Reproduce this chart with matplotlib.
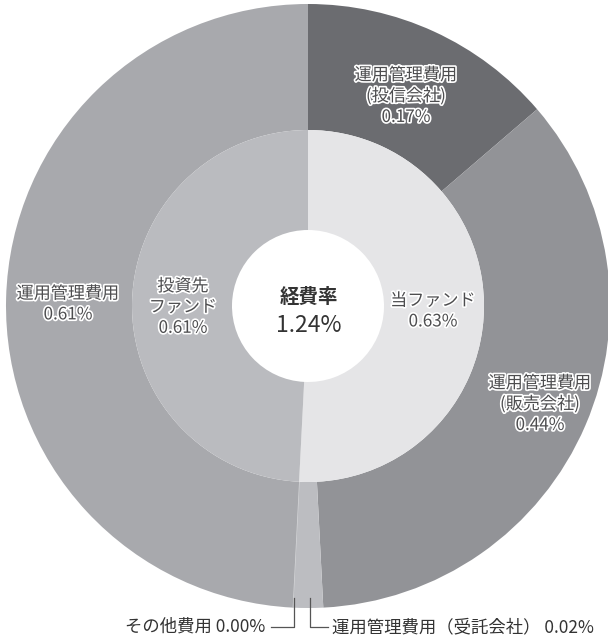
import matplotlib
matplotlib.use("Agg")
import matplotlib.pyplot as plt
import matplotlib.patheffects as pe
import numpy as np

plt.rcParams['font.family'] = ['Noto Sans CJK JP', 'DejaVu Sans']

# ---- data ----
outer_labels = ["運用管理費用\n(投信会社)\n0.17%", "運用管理費用\n(販売会社)\n0.44%",
                "運用管理費用（受託会社） 0.02%", "その他費用 0.00%", "運用管理費用\n0.61%"]
outer_values = [0.17, 0.44, 0.02, 0.00, 0.61]
outer_colors = ["#6b6c70", "#929397", "#bcbdc1", "#c8c9cc", "#a8a9ad"]
inner_labels = ["当ファンド\n0.63%", "投資先\nファンド\n0.61%"]
inner_values = [0.63, 0.61]
inner_colors = ["#e5e5e7", "#babbbf"]
center_title = "経費率"
center_value = "1.24%"

W, H = 608, 637
fig = plt.figure(figsize=(W / 100, H / 100), dpi=100)
ax = fig.add_axes([0, 0, 1, 1])

cx, cy = 308, H - 306
R_out, R_mid, R_in = 302, 176, 76

wo, _ = ax.pie(outer_values, radius=R_out, center=(cx, cy), colors=outer_colors,
               startangle=90, counterclock=False,
               wedgeprops=dict(width=R_out - R_mid, linewidth=0))
# the zero-value wedge shows as a thin light line
wo[3].set_edgecolor("#d8d9db")
wo[3].set_linewidth(0.8)
wi, _ = ax.pie(inner_values, radius=R_mid, center=(cx, cy), colors=inner_colors,
               startangle=90, counterclock=False,
               wedgeprops=dict(width=R_mid - R_in, linewidth=0))

ax.set_xlim(0, W)
ax.set_ylim(0, H)
ax.set_aspect("equal")
ax.axis("off")

stroke = [pe.withStroke(linewidth=2.4, foreground="white")]
tc = "#4d4d4f"
fs = 12.3
ls = 1.2

# outer in-ring labels
lab_pos = {0: (406, H - 96), 1: (540, H - 404), 4: (68, H - 304)}
for i, (x, y) in lab_pos.items():
    ax.text(x, y, outer_labels[i], ha="center", va="center", fontsize=fs,
            color=tc, linespacing=ls, path_effects=stroke)

# inner labels
ax.text(433, H - 311, inner_labels[0], ha="center", va="center", fontsize=fs,
        color=tc, linespacing=ls, path_effects=stroke)
ax.text(183, H - 307, inner_labels[1], ha="center", va="center", fontsize=fs,
        color=tc, linespacing=ls, path_effects=stroke)

# center
ax.text(cx + 1, H - 297, center_title, ha="center", va="center", fontsize=14,
        fontweight="bold", color="#333333")
ax.text(cx + 1, H - 325, center_value, ha="center", va="center", fontsize=16.5,
        color="#333333")

# bottom leader lines
total = sum(outer_values)
ang0 = np.deg2rad(90 - 360 * sum(outer_values[:3]) / total)
x0 = cx + R_out * np.cos(ang0) + 1
ang2 = np.deg2rad(90 - 360 * (sum(outer_values[:2]) + outer_values[2] / 2) / total)
x2 = cx + R_out * np.cos(ang2) + 2
ytop = H - 598
ybot = H - 627
lc = "#555555"
ax.plot([x0, x0, x0 - 23], [ytop, ybot, ybot], color=lc, lw=0.9)
ax.plot([x2, x2, x2 + 18], [ytop, ybot, ybot], color=lc, lw=0.9)
ax.text(x0 - 28, ybot, outer_labels[3], ha="right", va="center", fontsize=12.5,
        color="#333333")
ax.text(x2 + 22, ybot, outer_labels[2], ha="left", va="center", fontsize=12.5,
        color="#333333")

fig.savefig("out.png", dpi=100, facecolor="white")
